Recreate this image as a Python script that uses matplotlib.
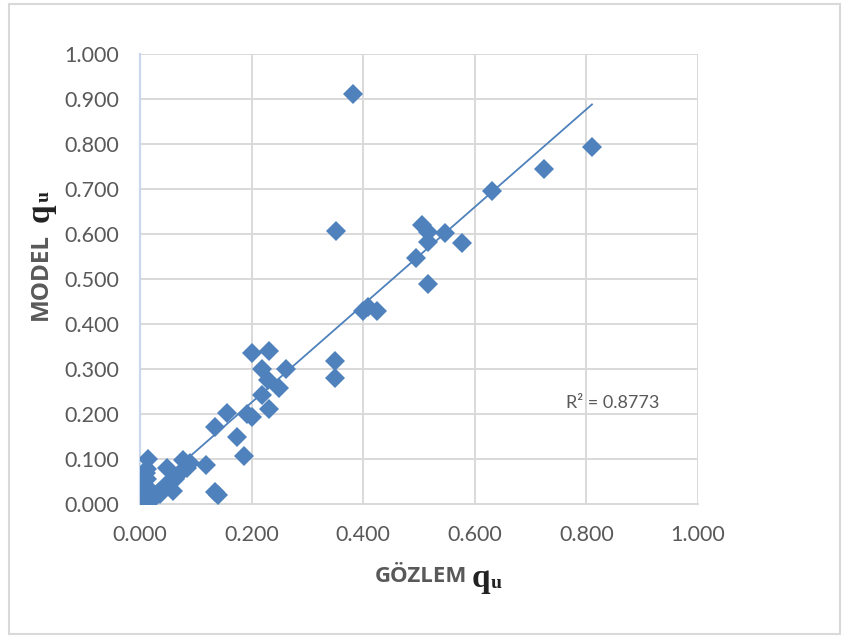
import numpy as np
import matplotlib
matplotlib.use("Agg")
import matplotlib.pyplot as plt
from matplotlib.patches import Rectangle

# observed (GOZLEM) and predicted (MODEL) bearing capacity, normalised
gozlem = [0.382, 0.810, 0.724, 0.631, 0.351, 0.505, 0.516, 0.516, 0.547, 0.577,
          0.495, 0.516, 0.400, 0.408, 0.425, 0.350, 0.350,
          0.201, 0.231, 0.219, 0.229, 0.262, 0.249, 0.219, 0.231, 0.156, 0.192,
          0.201, 0.135, 0.174, 0.186,
          0.118, 0.134, 0.140, 0.090, 0.077, 0.085, 0.048, 0.060, 0.068, 0.062,
          0.055, 0.045, 0.040, 0.035, 0.028, 0.022, 0.015, 0.012, 0.010, 0.012,
          0.010, 0.008, 0.005, 0.003, 0.015, 0.018]
model = [0.911, 0.793, 0.744, 0.696, 0.607, 0.620, 0.604, 0.582, 0.602, 0.580,
         0.547, 0.489, 0.430, 0.438, 0.428, 0.317, 0.279,
         0.336, 0.341, 0.300, 0.276, 0.300, 0.257, 0.242, 0.211, 0.202, 0.200,
         0.193, 0.172, 0.149, 0.107,
         0.086, 0.027, 0.019, 0.092, 0.098, 0.080, 0.080, 0.028, 0.065, 0.055,
         0.048, 0.040, 0.030, 0.022, 0.018, 0.012, 0.100, 0.078, 0.068, 0.055,
         0.040, 0.025, 0.015, 0.002, 0.030, 0.008]
r2_text = "R² = 0.8773"
ticks = [0.0, 0.2, 0.4, 0.6, 0.8, 1.0]
yticks = [0.0, 0.1, 0.2, 0.3, 0.4, 0.5, 0.6, 0.7, 0.8, 0.9, 1.0]

blue = "#4f81bd"
grey = "#595959"
grid = "#d9d9d9"
W, H = 846, 639


def px(xp, yp):
    # pixel position (from top-left) to figure fraction
    return xp / W, 1 - yp / H


fig = plt.figure(figsize=(W / 100, H / 100), dpi=100)
ax = fig.add_axes([140 / W, 1 - 504 / H, 558 / W, 450 / H])

x = np.asarray(gozlem)
y = np.asarray(model)
ax.plot(x, y, linestyle="none", marker="D", ms=10, color=blue, mew=0, zorder=3)

# linear trendline over the data range
k, b = np.polyfit(x, y, 1)
xl = np.array([x.min(), x.max()])
ax.plot(xl, k * xl + b, color=blue, lw=1.3, zorder=2)

ax.set_xlim(0, 1)
ax.set_ylim(0, 1)
ax.set_xticks(ticks)
ax.set_yticks(yticks)
ax.set_xticklabels(["%.3f" % t for t in ticks])
ax.set_yticklabels(["%.3f" % t for t in yticks])
ax.grid(True, color=grid, lw=1.4, zorder=0)
ax.set_axisbelow(True)
ax.tick_params(length=0, labelsize=15.5, labelcolor=grey, pad=15)
for lab in ax.get_xticklabels() + ax.get_yticklabels():
    lab.set_fontfamily("Lato")
for s in ["top", "right"]:
    ax.spines[s].set_visible(False)
ax.spines["bottom"].set_color(grid)
ax.spines["bottom"].set_linewidth(1.4)
ax.spines["left"].set_color("#c9d8ec")
ax.spines["left"].set_linewidth(1.6)

ax.text(0.764, 0.225, r2_text, fontsize=13, color=grey, family="Lato",
        va="center", ha="left")

# axis titles: bold sans word followed by a serif bold q with subscript u
lab = dict(fontweight="bold", color=grey, family="Open Sans", ha="center", va="center")
sym = dict(fontweight="bold", color="#222222", family="Liberation Serif", ha="center", va="center")

fig.text(*px(421, 577), "GÖZLEM", fontsize=16, **lab)
fig.text(*px(481, 578), "q", fontsize=24, **sym)
fig.text(*px(496, 584), "u", fontsize=14, **sym)

fig.text(*px(41, 276), "MODEL", fontsize=17.5, rotation=90, **lab)
fig.text(*px(40, 213), "q", fontsize=24, rotation=90, **sym)
fig.text(*px(44, 196), "u", fontsize=14, rotation=90, **sym)

# chart border
fig.patches.append(Rectangle(px(9, 634), 831 / W, 630 / H,
                             transform=fig.transFigure, fill=False, ec=grid, lw=1.5))

fig.savefig("out.png", dpi=100)
